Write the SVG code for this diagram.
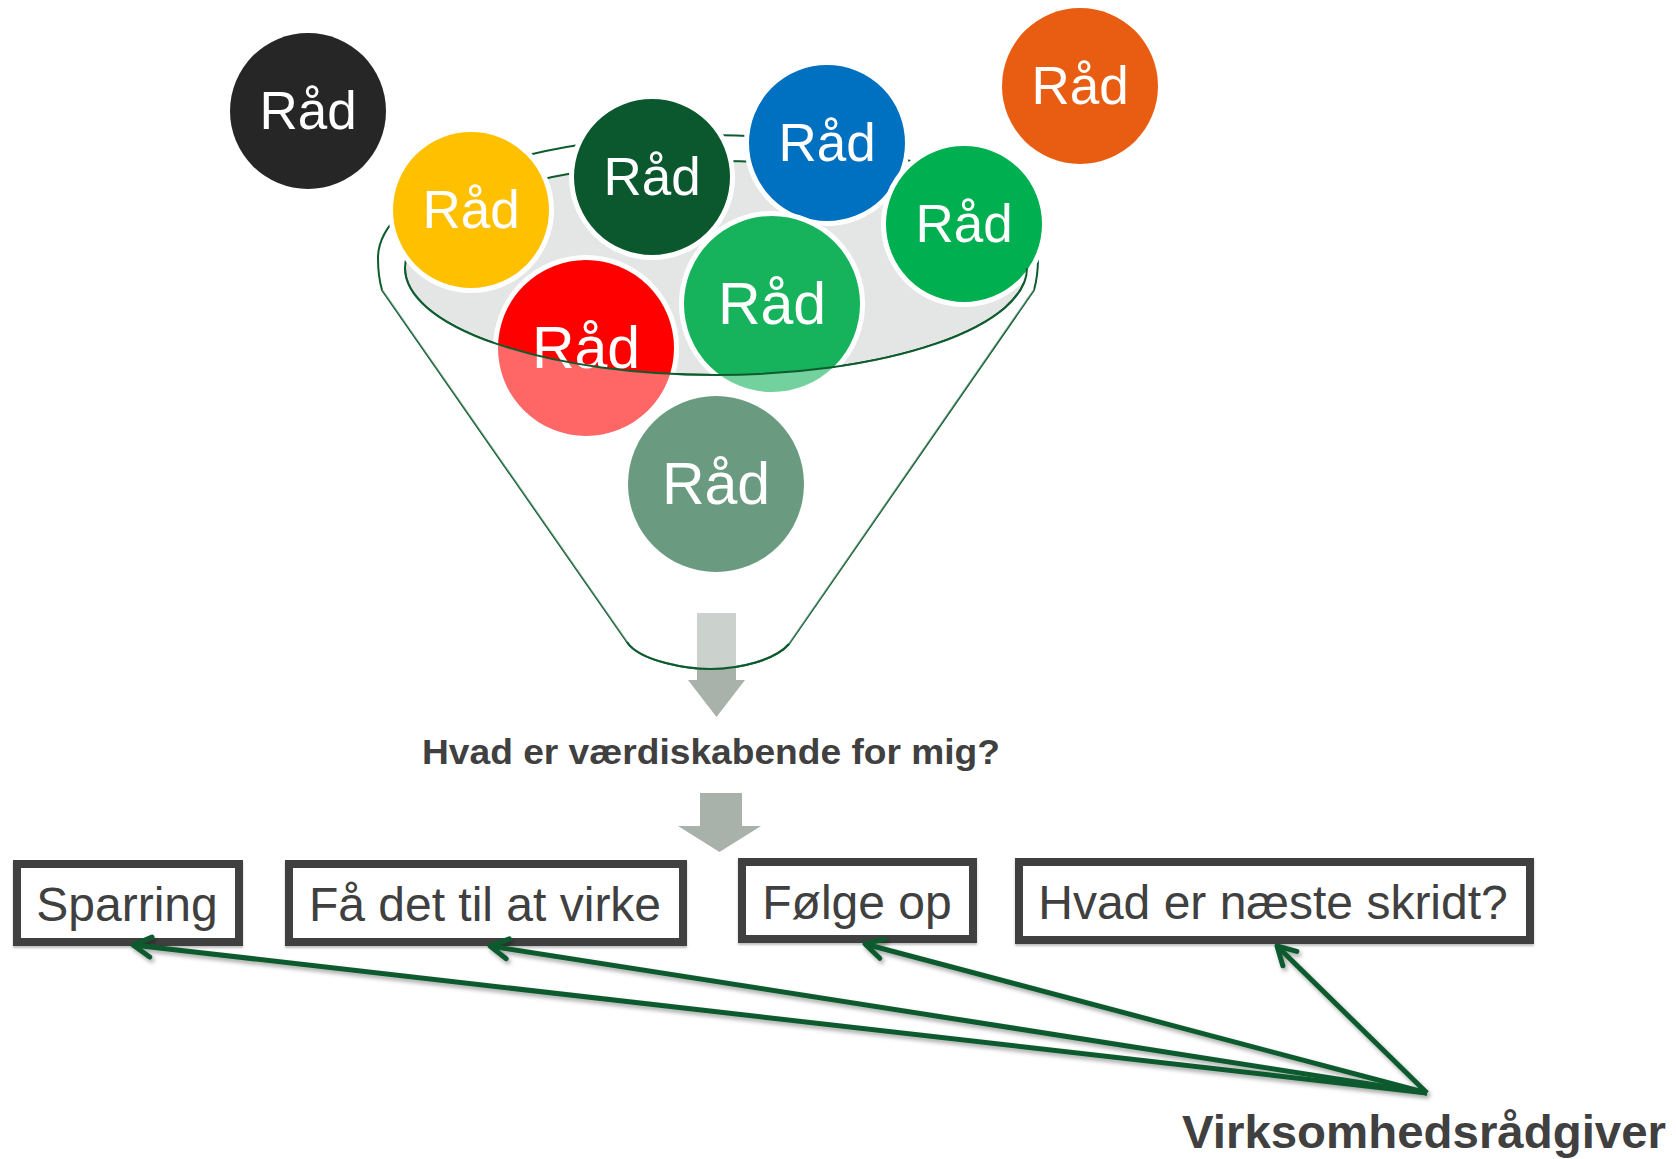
<svg xmlns="http://www.w3.org/2000/svg" width="1676" height="1159" viewBox="0 0 1676 1159">
<defs>
<style>
.rad{font-family:"Liberation Sans",Arial,sans-serif;fill:#ffffff;text-anchor:middle}
.rs{font-size:53px}
.rl{font-size:59px}
.ring{stroke:#ffffff;stroke-width:5}
.box{fill:#ffffff;stroke:#404040;stroke-width:8}
.bt{font-family:"Liberation Sans",Arial,sans-serif;font-size:48px;fill:#404040;text-anchor:middle}
.bold{font-family:"Liberation Sans",Arial,sans-serif;font-weight:bold;fill:#404040}
.fl{fill:none;stroke:#0d5b2e;stroke-width:2}
.con{fill:none;stroke:#0b5a2e;stroke-width:5}
.gar{fill:#a9b2aa}
</style>
<filter id="sh" filterUnits="userSpaceOnUse" x="0" y="0" width="1676" height="1159">
<feDropShadow dx="2" dy="3" stdDeviation="2" flood-color="#000" flood-opacity="0.35"/>
</filter>
<filter id="bsh" filterUnits="userSpaceOnUse" x="0" y="0" width="1676" height="1159">
<feDropShadow dx="0" dy="2" stdDeviation="1" flood-color="#000" flood-opacity="0.25"/>
</filter>
<marker id="ah" markerUnits="userSpaceOnUse" markerWidth="40" markerHeight="40" viewBox="-25 -20 40 40" refX="0" refY="0" orient="auto">
<path d="M-18,-10 L0,0 L-18,10" fill="none" stroke="#0b5a2e" stroke-width="5" stroke-linecap="round" stroke-linejoin="round"/>
</marker>
</defs>
<rect width="1676" height="1159" fill="#ffffff"/>

<g id="funnel">
<path class="fl" d="M627,642 L382,290 Q378,276 378,258 A330 123 0 0 1 1038,258 Q1038,276 1034,290 L789,644 C775,660 740,669 710,669 C690,669 640,662 627,642 Z" style="fill:#ffffff"/>
<ellipse cx="716" cy="268" rx="311" ry="107" fill="#e4e6e5" stroke="#0d5b2e" stroke-width="2"/>
</g>

<g id="rad-black"><circle cx="308" cy="111" r="78" fill="#262626"/><text class="rad rs" x="308" y="129">Råd</text></g>
<g id="rad-orange"><circle cx="1080" cy="86" r="78" fill="#e85d12"/><text class="rad rs" x="1080" y="104">Råd</text></g>

<g id="rad-yellow"><circle class="ring" cx="471" cy="210" r="80.5" fill="#ffc000"/><text class="rad rs" x="471" y="228">Råd</text></g>
<g id="rad-darkgreen"><circle class="ring" cx="652" cy="177" r="80.5" fill="#0b572e"/><text class="rad rs" x="652" y="195">Råd</text></g>
<g id="rad-blue"><circle class="ring" cx="827" cy="143" r="80.5" fill="#0070c0"/><text class="rad rs" x="827" y="161">Råd</text></g>
<g id="rad-green"><circle class="ring" cx="964" cy="224" r="80.5" fill="#00b050"/><text class="rad rs" x="964" y="242">Råd</text></g>
<g id="rad-red"><circle class="ring" cx="586" cy="348" r="90.5" fill="#ff0000"/><text class="rad rl" x="586" y="368">Råd</text></g>
<g id="rad-midgreen"><circle class="ring" cx="772" cy="304" r="90.5" fill="#17b35c"/><text class="rad rl" x="772" y="324">Råd</text></g>

<g id="arrow1"><path class="gar" d="M697,613 H736 V680 H745 L716.5,717 L688,680 H697 Z"/></g>

<g id="funnel-front">
<path fill="#ffffff" fill-opacity="0.4" d="M405,268 A311 107 0 0 0 1027,268 L1034,290 L789,644 C775,660 740,669 710,669 C690,669 640,662 627,642 L382,290 Z"/>
<path class="fl" d="M405,268 A311 107 0 0 0 1027,268"/>
<path class="fl" d="M789,644 C775,660 740,669 710,669 C690,669 640,662 627,642"/>
</g>

<g id="rad-sage"><circle cx="716" cy="484" r="88" fill="#6a9a80"/><text class="rad rl" x="716" y="504">Råd</text></g>

<g id="question"><text class="bold" x="422" y="764" font-size="35" textLength="578" lengthAdjust="spacingAndGlyphs">Hvad er værdiskabende for mig?</text></g>

<g id="arrow2"><path class="gar" d="M700,793 H742 V826 H761 L719.5,852 L678,826 H700 Z"/></g>

<g id="box-sparring"><rect class="box" filter="url(#bsh)" x="17" y="864" width="222" height="78"/><text class="bt" x="127" y="921">Sparring</text></g>
<g id="box-faa"><rect class="box" filter="url(#bsh)" x="289" y="864" width="394" height="78"/><text class="bt" x="485" y="921">Få det til at virke</text></g>
<g id="box-foelge"><rect class="box" filter="url(#bsh)" x="742" y="862" width="231" height="77"/><text class="bt" x="857" y="919">Følge op</text></g>
<g id="box-hvad"><rect class="box" filter="url(#bsh)" x="1019" y="862" width="511" height="78"/><text class="bt" x="1273" y="919">Hvad er næste skridt?</text></g>

<g id="connectors" filter="url(#sh)">
<line class="con" x1="1427" y1="1093" x2="133" y2="945" marker-end="url(#ah)"/>
<line class="con" x1="1427" y1="1093" x2="490" y2="946" marker-end="url(#ah)"/>
<line class="con" x1="1427" y1="1093" x2="865" y2="944" marker-end="url(#ah)"/>
<line class="con" x1="1427" y1="1093" x2="1277" y2="946" marker-end="url(#ah)"/>
</g>

<g id="advisor"><text class="bold" x="1182" y="1148" font-size="47" textLength="484" lengthAdjust="spacingAndGlyphs">Virksomhedsrådgiver</text></g>
</svg>
